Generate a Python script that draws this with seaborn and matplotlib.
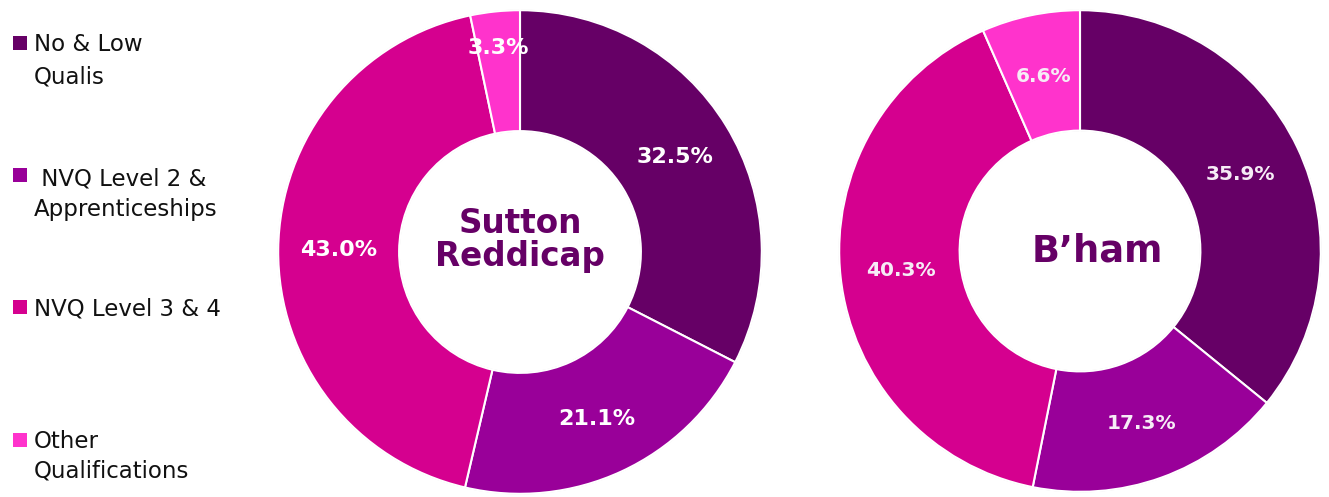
import matplotlib
matplotlib.use("Agg")
import matplotlib.pyplot as plt
import seaborn as sns
from matplotlib.patches import Rectangle
import numpy as np

# ---- data ----
categories = ["No & Low\nQualis", " NVQ Level 2 &\nApprenticeships", "NVQ Level 3 & 4", "Other\nQualifications"]
sutton_values = [32.5, 21.1, 43.0, 3.3]
bham_values = [35.9, 17.3, 40.3, 6.6]
chart_titles = ["Sutton\nReddicap", "B\u2019ham"]
colors = ["#660066", "#990099", "#D5008F", "#FF33CC"]

sns.set_theme(style="white")
plt.rcParams['font.family'] = ['DejaVu Sans']

W, H = 1329, 497
fig = plt.figure(figsize=(W / 100, H / 100), dpi=100)
fig.patch.set_facecolor("white")


def px_axes(cx, cy, r):
    return fig.add_axes([(cx - r) / W, (H - cy - r) / H, 2 * r / W, 2 * r / H])


def donut(ax, values, title, label_size, title_size, label_color, pct_dist, title_dx=0.0, title_dy=0.0):
    wedges, _ = ax.pie(values, colors=colors, startangle=90, counterclock=False,
                       radius=1.0,
                       wedgeprops=dict(width=0.5, edgecolor="white", linewidth=1.5))
    # faint outer/inner outlines
    for rr in (1.0, 0.5):
        ax.add_patch(plt.Circle((0, 0), rr, fill=False, ec="#d8d8d8", lw=1.0, zorder=0.5))
    for w, v, d in zip(wedges, values, pct_dist):
        ang = np.deg2rad((w.theta1 + w.theta2) / 2)
        ax.text(d * np.cos(ang), d * np.sin(ang), f"{v:.1f}%", ha="center", va="center",
                fontsize=label_size, fontweight="bold", color=label_color)
    ax.text(title_dx, title_dy, title, ha="center", va="center", fontsize=title_size,
            fontweight="bold", color="#660066", linespacing=1.0)
    ax.set_xlim(-1.005, 1.005)
    ax.set_ylim(-1.005, 1.005)
    ax.set_aspect("equal")
    ax.axis("off")


ax1 = px_axes(520, 252, 243)
donut(ax1, sutton_values, chart_titles[0], 16, 23.5, "white", [0.75, 0.76, 0.75, 0.85],
      title_dy=0.05)

ax2 = px_axes(1080, 251, 242)
donut(ax2, bham_values, chart_titles[1], 14.5, 26.5, "#f6ecf6", [0.74, 0.76, 0.75, 0.74],
      title_dx=0.07)

# ---- legend (drawn manually to match layout) ----
marker_centers = [42.5, 175, 306.5, 440]
line_baselines = [[51, 84], [186, 216], [316], [448, 478]]
for cat, col, mc, bls in zip(categories, colors, marker_centers, line_baselines):
    s = 14
    fig.patches.append(Rectangle((13 / W, (H - mc - s / 2) / H), s / W, s / H,
                                 transform=fig.transFigure, facecolor=col, edgecolor="none"))
    for line, bl in zip(cat.split("\n"), bls):
        fig.text(34 / W, (H - bl) / H, line, ha="left", va="baseline",
                 fontsize=16.5, color="#111111")

fig.savefig("out.png", dpi=100, facecolor="white")
